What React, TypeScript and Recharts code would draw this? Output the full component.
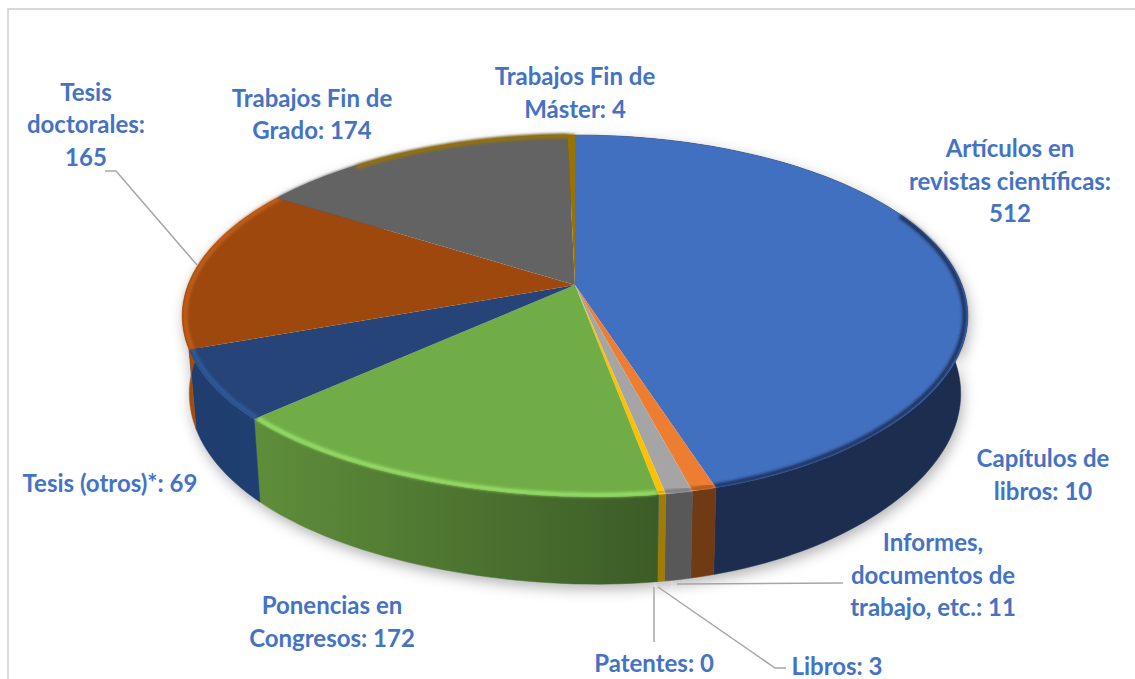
import { PieChart, Pie } from 'recharts';

const categories = [
  'Artículos en revistas científicas',
  'Capítulos de libros',
  'Informes, documentos de trabajo, etc.',
  'Libros',
  'Patentes',
  'Ponencias en Congresos',
  'Tesis (otros)*',
  'Tesis doctorales',
  'Trabajos Fin de Grado',
  'Trabajos Fin de Máster',
];
const counts = [512, 10, 11, 3, 0, 172, 69, 165, 174, 4];
const labelLines = [
  ['Artículos en', 'revistas científicas:', '512'],
  ['Capítulos de', 'libros: 10'],
  ['Informes,', 'documentos de', 'trabajo, etc.: 11'],
  ['Libros: 3'],
  ['Patentes: 0'],
  ['Ponencias en', 'Congresos: 172'],
  ['Tesis (otros)*: 69'],
  ['Tesis', 'doctorales:', '165'],
  ['Trabajos Fin de', 'Grado: 174'],
  ['Trabajos Fin de', 'Máster: 4'],
];

const topColors = ['#4270C0', '#ED7D31', '#A5A5A5', '#FFC000', '#5B9BD5', '#70AD47', '#264478', '#9E480E', '#636363', '#997300'];
const wallFrom = ['#1C2D50', '#703A14', '#585858', '#A07C06', '#3E6A94', '#5E8E3A', '#1F3F72', '#B4560F', '#4A4A4A', '#6E5300'];
const wallTo = ['#1C2D50', '#703A14', '#585858', '#A07C06', '#3E6A94', '#3C5C27', '#1F3D6E', '#A04C0E', '#4A4A4A', '#6E5300'];
const rimColors = ['#1B2F58', '#A8561F', '#7A7A7A', '#D8A300', '#5B9BD5', '#9AE068', '#2F5C9C', '#C2601A', '#636363', '#997300'];

// label placement: centre x, centre y of each text line
const labelX = [1010, 1043, 933, 837, 654, 332, 110, 86, 312, 575];
const labelY = [
  [149, 182, 214],
  [459, 492],
  [543, 576, 608],
  [667],
  [664],
  [606, 639],
  [484],
  [93, 125, 158],
  [99, 131],
  [77, 110],
];
const leaders: Record<number, string> = {
  2: '677,584 843,583',
  3: '658,587 775,668 786,668',
  4: '654,587 654,642',
  7: '105,171 116,171 197,265',
};

const tableData = categories.map((name, i) => ({ name, value: counts[i], fill: topColors[i] }));

// tilted disc: the view is a perspective projection of the pie's circle
const CX = 575;
const CY = 285;
const TOP_A = 387;
const TOP_B = 175.7;
const BASE_A = 380;
const BASE_B = 185;
const BASE_CY = 361;
const TILT = 0.171;

function project(deg: number, a: number, b: number, cy: number, shrink = 1) {
  const rad = ((90 - deg) * Math.PI) / 180;
  const u = Math.sin(rad) * shrink;
  const v = -Math.cos(rad) * shrink;
  const w = 1 - TILT * v;
  const warp = 22 * Math.pow(Math.max(0, v), 6);
  return [CX + (a * u) / w + warp, cy + (b * v) / w];
}

function arcPoints(start: number, end: number, a: number, b: number, cy: number, shrink = 1) {
  const steps = Math.max(1, Math.ceil(Math.abs(end - start) / 1.5));
  const pts: number[][] = [];
  for (let i = 0; i <= steps; i++) pts.push(project(start + ((end - start) * i) / steps, a, b, cy, shrink));
  return pts;
}

const toPath = (pts: number[][]) => pts.map((p, i) => `${i ? 'L' : 'M'}${p[0].toFixed(1)} ${p[1].toFixed(1)}`).join(' ');

function indexOf(props: any) {
  return categories.indexOf(props.name ?? props.payload?.name);
}

function ShadowShape(props: any) {
  const top = arcPoints(props.startAngle, props.endAngle, TOP_A, TOP_B, CY);
  const base = arcPoints(props.endAngle, props.startAngle, BASE_A, BASE_B, BASE_CY);
  return <path d={toPath([...top, ...base]) + ' Z'} fill="#000" fillOpacity={0.3} transform="translate(2 5)" filter="url(#pieShadow)" />;
}

function WallShape(props: any) {
  const i = indexOf(props);
  const top = arcPoints(props.startAngle, props.endAngle, TOP_A, TOP_B, CY);
  const base = arcPoints(props.endAngle, props.startAngle, BASE_A, BASE_B, BASE_CY);
  return (
    <g>
      <defs>
        <linearGradient id={`wall${i}`} x1="0" y1="0" x2="1" y2="0">
          <stop offset="0%" stopColor={i === 5 ? wallFrom[i] : wallTo[i]} />
          <stop offset="100%" stopColor={i === 5 ? wallTo[i] : wallFrom[i]} />
        </linearGradient>
      </defs>
      <path d={toPath([...top, ...base]) + ' Z'} fill={`url(#wall${i})`} stroke={`url(#wall${i})`} strokeWidth={0.5} />
    </g>
  );
}

function TopShape(props: any) {
  const i = indexOf(props);
  const rim = arcPoints(props.startAngle, props.endAngle, TOP_A, TOP_B, CY);
  const path = `M${CX} ${CY} ` + toPath(rim).replace(/^M/, 'L') + ' Z';
  // the soft bevel only shows on the side facing the viewer
  const bevel = arcPoints(
    Math.min(Math.max(props.startAngle, -230), 25),
    Math.min(props.endAngle, 25),
    TOP_A,
    TOP_B,
    CY,
    0.992,
  );
  return (
    <g>
      <path d={path} fill={topColors[i]} />
      {props.startAngle !== props.endAngle && (
        <path d={toPath(bevel)} fill="none" stroke={rimColors[i]} strokeWidth={4} filter="url(#rimBlur)" />
      )}
    </g>
  );
}

function renderLabel(props: any) {
  const i = props.index;
  return (
    <g key={i}>
      {leaders[i] && <polyline points={leaders[i]} fill="none" stroke="#A6A6A6" strokeWidth={1.5} />}
      {labelLines[i].map((line, n) => (
        <text
          key={line}
          x={labelX[i]}
          y={labelY[i][n]}
          dy="0.33em"
          textAnchor="middle"
          fill="#4472C4"
          fontFamily="Lato, sans-serif"
          fontWeight={700}
          fontSize={24}
        >
          {line}
        </text>
      ))}
    </g>
  );
}

export default function App() {
  return (
    <div style={{ position: 'absolute', left: 0, top: 0, width: 1135, height: 679, overflow: 'hidden', background: '#fff' }}>
      <div style={{ position: 'absolute', left: 7, top: 8, width: 1200, height: 760, border: '2px solid #D9D9D9' }} />
      <div style={{ position: 'absolute', left: 0, top: 0 }}>
        <PieChart width={1135} height={679} margin={{ top: 0, right: 0, bottom: 0, left: 0 }}>
          <defs>
            <filter id="pieShadow" x="-30%" y="-30%" width="160%" height="160%">
              <feGaussianBlur stdDeviation="7" />
            </filter>
            <filter id="rimBlur" x="-20%" y="-20%" width="140%" height="140%">
              <feGaussianBlur stdDeviation="1.6" />
            </filter>
          </defs>
          <Pie data={tableData} dataKey="value" nameKey="name" cx={CX} cy={CY} outerRadius={TOP_A} startAngle={90} endAngle={-270} stroke="none" shape={ShadowShape} isAnimationActive={false} />
          <Pie data={tableData} dataKey="value" nameKey="name" cx={CX} cy={CY} outerRadius={TOP_A} startAngle={90} endAngle={-270} stroke="none" shape={WallShape} isAnimationActive={false} />
          <Pie data={tableData} dataKey="value" nameKey="name" cx={CX} cy={CY} outerRadius={TOP_A} startAngle={90} endAngle={-270} stroke="none" shape={TopShape} label={renderLabel} labelLine={false} isAnimationActive={false} />
        </PieChart>
      </div>
    </div>
  );
}
